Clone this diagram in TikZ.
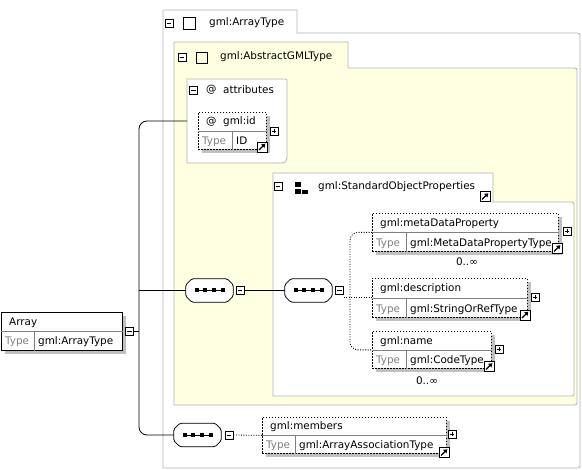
\documentclass[tikz,border=0pt]{standalone}
\usepackage{fontspec}
\setmainfont{DejaVu Sans}
\usetikzlibrary{shadows,calc,arrows.meta}

\definecolor{framegray}{RGB}{180,180,180}
\definecolor{paleyellow}{RGB}{255,255,226}
\definecolor{shadowgray}{RGB}{192,192,192}
\definecolor{typegray}{RGB}{128,128,128}

\begin{document}
\begin{tikzpicture}[x=1pt, y=-1pt, font=\fontsize{10.4}{12}\selectfont,
	frameline/.style={draw=framegray, line width=0.8pt},
	shadowed/.style={drop shadow={shadow xshift=3.5pt, shadow yshift=-3.5pt, fill=shadowgray, opacity=1}},
	elembox/.style={draw, fill=white, line width=0.8pt, anchor=north west, inner sep=0pt, shadowed},
	optbox/.style={elembox, dash pattern=on 1.5pt off 1.5pt},
	divider/.style={draw=gray, line width=0.5pt},
	nametext/.style={anchor=base west, inner sep=0pt},
	typetext/.style={anchor=base west, inner sep=0pt, text=typegray},
	minusbox/.style={draw, fill=white, line width=0.6pt, minimum size=8pt, inner sep=0pt,
		path picture={\draw ([xshift=1.6pt]path picture bounding box.west) -- ([xshift=-1.6pt]path picture bounding box.east);}},
	plusbox/.style={draw, fill=white, line width=0.6pt, minimum size=8pt, inner sep=0pt,
		path picture={\draw ([xshift=1.6pt]path picture bounding box.west) -- ([xshift=-1.6pt]path picture bounding box.east);
			\draw ([yshift=-1.6pt]path picture bounding box.north) -- ([yshift=1.6pt]path picture bounding box.south);}},
	typebox/.style={draw, line width=0.8pt, inner sep=0pt},
	seqbox/.style={rectangle, minimum width=47pt, minimum height=23pt, inner sep=0pt},
	seqline/.style={line width=0.8pt},
	optline/.style={line width=0.8pt, dash pattern=on 1pt off 1.5pt}
	]
	\useasboundingbox (0,0) rectangle (582,470);

	% Frames
	% gml:ArrayType
	\draw[frameline, fill=white] (163,468) -- (163,10) -- (297,10) -- (297,33) -- (575,33) .. controls (580,33) .. (580,38) -- (580,463) .. controls (580,468) .. (575,468) -- cycle;
	\node[minusbox] (mArrayType) at (169,23) {};
	\node[typebox, minimum size=12pt] (sqArrayType) at (189,23) {};
	\node[anchor=west, inner sep=0pt] (tArrayType) at (209,23) {gml:ArrayType};
	% gml:AbstractGMLType
	\draw[frameline, fill=paleyellow] (174,405) -- (174,42) -- (348,42) -- (348,68) -- (572,68) .. controls (577,68) .. (577,73) -- (577,400) .. controls (577,405) .. (572,405) -- cycle;
	\node[minusbox] (mAbstract) at (182,57) {};
	\node[typebox, minimum size=11pt] (sqAbstract) at (201.5,57.5) {};
	\node[anchor=west, inner sep=0pt] (tAbstract) at (220,57) {gml:AbstractGMLType};
	% attributes
	\draw[frameline, fill=white] (187,79) -- (283,79) .. controls (287,79) .. (287,83) -- (287,153) .. controls (287,163) .. (277,163) -- (187,163) -- cycle;
	\coordinate (attr) at (187,121);
	\node[minusbox] (mAttr) at (193.5,90) {};
	\node[anchor=west, inner sep=0pt] (atAttr) at (206,90) {@};
	\node[anchor=west, inner sep=0pt] (tAttr) at (223,90) {attributes};
	% gml:StandardObjectProperties
	\draw[frameline, fill=white] (273,396) -- (273,173) -- (493,173) -- (493,202) -- (569,202) .. controls (574,202) .. (574,207) -- (574,391) .. controls (574,396) .. (569,396) -- cycle;
	\node[minusbox] (mSOP) at (278,186) {};
	\fill (295,182) rectangle (300.5,187);
	\fill (295,189.5) rectangle (300.5,194);
	\fill (302,190) rectangle (307.5,194);
	\node[anchor=west, inner sep=0pt] (tSOP) at (318,187) {gml:StandardObjectProperties};

	% Elements
	% Array
	\node[elembox, minimum width=121pt, minimum height=38pt] (array) at (1,312) {};
	\draw[divider] (array.west) -- (array.east);
	\draw[divider] ($(array.west)+(33,0)$) -- ($(array.south west)+(33,0)$);
	\node[nametext] (arrayname) at ($(array.north west)+(8,14)$) {Array};
	\node[typetext] (arraytype) at ($(array.north west)+(4,33)$) {Type};
	\node[nametext] (arrayval) at ($(array.north west)+(37,33)$) {gml:ArrayType};
	\node[minusbox] (mArray) at (129.5,331.5) {};
	% gml:id
	\node[optbox, minimum width=68pt, minimum height=37pt] (id) at (198,112) {};
	\draw[divider] (id.west) -- (id.east);
	\draw[divider] ($(id.west)+(34,0)$) -- ($(id.south west)+(34,0)$);
	\node[nametext] (idat) at ($(id.north west)+(8,13)$) {@};
	\node[nametext] (idname) at ($(id.north west)+(25,13)$) {gml:id};
	\node[typetext] (idtype) at ($(id.north west)+(4,33)$) {Type};
	\node[nametext] (idval) at ($(id.north west)+(38,33)$) {ID};
	\node[plusbox] (pId) at (274,131) {};
	% gml:metaDataProperty
	\node[optbox, minimum width=186pt, minimum height=38pt] (meta) at (372,213) {};
	\draw[divider] (meta.west) -- (meta.east);
	\draw[divider] ($(meta.west)+(34,0)$) -- ($(meta.south west)+(34,0)$);
	\node[nametext] (metaname) at ($(meta.north west)+(8,14)$) {gml:metaDataProperty};
	\node[typetext] (metatype) at ($(meta.north west)+(4,34)$) {Type};
	\node[nametext] (metaval) at ($(meta.north west)+(38,34)$) {gml:MetaDataPropertyType};
	\node[plusbox] (pMeta) at (567,231) {};
	\node (metaocc) at (467,262) {0..∞};
	% gml:description
	\node[optbox, minimum width=155pt, minimum height=39pt] (desc) at (372,278) {};
	\draw[divider] (desc.west) -- (desc.east);
	\draw[divider] ($(desc.west)+(34,0)$) -- ($(desc.south west)+(34,0)$);
	\node[nametext] (descname) at ($(desc.north west)+(8,14)$) {gml:description};
	\node[typetext] (desctype) at ($(desc.north west)+(4,35)$) {Type};
	\node[nametext] (descval) at ($(desc.north west)+(38,35)$) {gml:StringOrRefType};
	\node[plusbox] (pDesc) at (535,297) {};
	% gml:name
	\node[optbox, minimum width=119pt, minimum height=37pt] (name) at (372,331) {};
	\draw[divider] (name.west) -- (name.east);
	\draw[divider] ($(name.west)+(34,0)$) -- ($(name.south west)+(34,0)$);
	\node[nametext] (namename) at ($(name.north west)+(8,14)$) {gml:name};
	\node[typetext] (nametype) at ($(name.north west)+(4,33)$) {Type};
	\node[nametext] (nameval) at ($(name.north west)+(38,33)$) {gml:CodeType};
	\node[plusbox] (pName) at (499,349) {};
	\node (nameocc) at (427,381) {0..∞};
	% gml:members
	\node[optbox, minimum width=184pt, minimum height=36pt] (members) at (262,417) {};
	\draw[divider] (members.west) -- (members.east);
	\draw[divider] ($(members.west)+(33,0)$) -- ($(members.south west)+(33,0)$);
	\node[nametext] (membersname) at ($(members.north west)+(8,13)$) {gml:members};
	\node[typetext] (memberstype) at ($(members.north west)+(4,32)$) {Type};
	\node[nametext] (membersval) at ($(members.north west)+(37,32)$) {gml:ArrayAssociationType};
	\node[plusbox] (pMembers) at (452,434) {};

	% Sequences
	\node[seqbox] (seqA) at (209.5,290.5) {};
	\node[minusbox] (mSeqA) at (240,290.5) {};
	\node[seqbox] (seqB) at (308.5,290.5) {};
	\node[minusbox] (mSeqB) at (339.5,290.5) {};
	\node[seqbox] (seqC) at (197.5,435) {};
	\node[minusbox] (mSeqC) at (229,435) {};
	% sequence outlines and marks
	\foreach \s in {seqA,seqB,seqC}
	{
		\fill[shadowgray, shift={(3.5,3.5)}, rounded corners=1.5pt] ($(\s.north west)+(6,0)$) -- ($(\s.north east)+(-6,0)$) -- ($(\s.north east)+(0,6)$) -- ($(\s.south east)+(0,-6)$) -- ($(\s.south east)+(-6,0)$) -- ($(\s.south west)+(6,0)$) -- ($(\s.south west)+(0,-6)$) -- ($(\s.north west)+(0,6)$) -- cycle;
		\draw[fill=white, line width=0.8pt, rounded corners=1.5pt] ($(\s.north west)+(6,0)$) -- ($(\s.north east)+(-6,0)$) -- ($(\s.north east)+(0,6)$) -- ($(\s.south east)+(0,-6)$) -- ($(\s.south east)+(-6,0)$) -- ($(\s.south west)+(6,0)$) -- ($(\s.south west)+(0,-6)$) -- ($(\s.north west)+(0,6)$) -- cycle;
		\draw[line width=0.8pt] ($(\s.center)+(-13,0)$) -- ($(\s.center)+(13,0)$);
		\foreach \d in {-13,-4.33,4.33,13}
			\fill ($(\s.center)+(\d-2,-2)$) rectangle ($(\s.center)+(\d+2,2)$);
	}

	% Connectors
	\coordinate (branch) at (139,331.5);
	\draw[seqline] (mArray.east) -- (branch);
	\draw[seqline, rounded corners=8pt] (attr) -| (branch) |- (seqC.west);
	\draw[seqline] (branch |- seqA.west) -- (seqA.west);
	\draw[seqline] (mSeqA.east) -- (seqB.west);
	\coordinate (choice) at (350,297.5);
	\draw[optline, rounded corners=8pt] (meta.west) -| (choice) |- (name.west);
	\draw[optline] (mSeqB.east |- desc.west) -- (desc.west);
	\draw[optline] (mSeqC.east) -- (members.west);

	% Link icons
	\foreach \cx/\cy in {262/147, 557/248.5, 525/315, 489/366.5, 444/452.5, 485/196.5}
	{
		\draw[fill=white, line width=0.7pt] (\cx-5,\cy-5) rectangle (\cx+5,\cy+5);
		\draw[line width=1.3pt, -{Triangle[length=3.5pt, width=4.5pt]}] (\cx-3,\cy+3) -- (\cx+3.3,\cy-3.3);
	}
\end{tikzpicture}
\end{document}
